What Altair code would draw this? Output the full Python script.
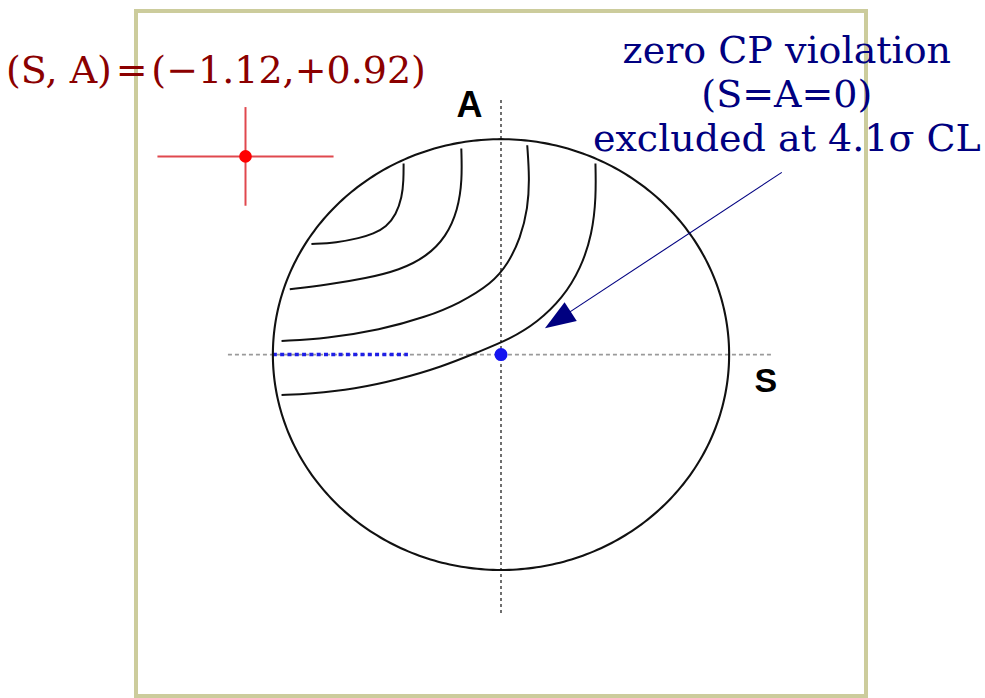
import altair as alt
import numpy as np
import pandas as pd

# ---- measured result and its errors -------------------------------------
S_FIT, A_FIT = -1.12, 0.92
S_ERR, A_ERR = 0.386, 0.229

# ---- confidence contours (S, A), traced from the upper end downwards ----
c1_s = [-0.427, -0.427, -0.434, -0.460, -0.502, -0.560, -0.619, -0.721, -0.831]
c1_a = [0.887, 0.810, 0.730, 0.650, 0.593, 0.560, 0.541, 0.519, 0.513]

c2_s = [-0.174, -0.170, -0.189, -0.240, -0.327, -0.444, -0.590, -0.765, -0.926]
c2_a = [0.957, 0.810, 0.671, 0.547, 0.454, 0.392, 0.354, 0.323, 0.303]

c3_s = [0.115, 0.125, 0.118, 0.085, 0.030, -0.040, -0.182, -0.327, -0.532, -0.765, -0.962]
c3_a = [0.972, 0.820, 0.680, 0.540, 0.420, 0.330, 0.238, 0.175, 0.114, 0.075, 0.063]

c4_s = [0.414, 0.417, 0.400, 0.350, 0.270, 0.160, 0.040, -0.100, -0.260, -0.450, -0.640, -0.838, -0.962]
c4_a = [0.887, 0.732, 0.560, 0.400, 0.262, 0.150, 0.072, 0.012, -0.057, -0.116, -0.160, -0.182, -0.188]

# ---- reference lines -----------------------------------------------------
s_axis = [-1.197, 1.192]      # dashed S axis extent (A = 0)
a_axis = [1.182, -1.200]      # dashed A axis extent (S = 0)
blue_seg = [-1.0, -0.408]     # dotted blue segment along A = 0

# ---- annotation anchors --------------------------------------------------
arrow_from = (1.231, 0.846)
arrow_head = (0.249, 0.161)
note_lines = ["zero CP violation", "(S=A=0)", "excluded at 4.1σ CL"]
note_s = 1.253
note_a = [1.352, 1.149, 0.947]

xs = alt.Scale(domain=[-1.6, 1.6], nice=False, zero=False)
ys = alt.Scale(domain=[-1.585, 1.595], nice=False, zero=False)


def X(f="s"):
    return alt.X(f, type="quantitative", scale=xs, axis=None)


def Y(f="a"):
    return alt.Y(f, type="quantitative", scale=ys, axis=None)


# physical boundary S^2 + A^2 = 1
t = np.linspace(0, 2 * np.pi, 361)
circle_df = pd.DataFrame({"s": np.cos(t), "a": np.sin(t), "i": np.arange(len(t))})

contour_rows = []
for k, (cs, ca) in enumerate([(c1_s, c1_a), (c2_s, c2_a), (c3_s, c3_a), (c4_s, c4_a)]):
    for i, (s, a) in enumerate(zip(cs, ca)):
        contour_rows.append({"curve": k, "i": i, "s": s, "a": a})
contour_df = pd.DataFrame(contour_rows)

h_axis = alt.Chart(pd.DataFrame({"s": [s_axis[0]], "s2": [s_axis[1]], "a": [0.0]})).mark_rule(
    color="#9a9a9a", strokeWidth=1.6, strokeDash=[4, 3]
).encode(x=X("s"), x2="s2", y=Y("a"))

v_axis = alt.Chart(pd.DataFrame({"s": [0.0], "a": [a_axis[0]], "a2": [a_axis[1]]})).mark_rule(
    color="#222222", strokeWidth=1.3, strokeDash=[3, 3]
).encode(x=X("s"), y=Y("a"), y2="a2")

circle = alt.Chart(circle_df).mark_line(color="#111111", strokeWidth=2.1).encode(
    x=X("s"), y=Y("a"), order="i:Q"
)

contours = alt.Chart(contour_df).mark_line(
    color="#111111", strokeWidth=2, interpolate="basis"
).encode(x=X("s"), y=Y("a"), detail="curve:N", order="i:Q")

blue_line = alt.Chart(pd.DataFrame({"s": [blue_seg[0]], "s2": [blue_seg[1]], "a": [0.0]})).mark_rule(
    color="#1f1fe6", strokeWidth=3.5, strokeDash=[4, 3.3]
).encode(x=X("s"), x2="s2", y=Y("a"))

origin = alt.Chart(pd.DataFrame({"s": [0.0], "a": [0.0]})).mark_point(
    shape="circle", filled=True, size=170, color="#1515f0", opacity=1
).encode(x=X("s"), y=Y("a"))

fit_df = pd.DataFrame({
    "s": [S_FIT], "a": [A_FIT],
    "s_lo": [S_FIT - S_ERR], "s_hi": [S_FIT + S_ERR],
    "a_lo": [A_FIT - A_ERR], "a_hi": [A_FIT + A_ERR],
})
err_s = alt.Chart(fit_df).mark_rule(color="#e0484e", strokeWidth=2).encode(
    x=X("s_lo"), x2="s_hi", y=Y("a")
)
err_a = alt.Chart(fit_df).mark_rule(color="#e0484e", strokeWidth=2).encode(
    x=X("s"), y=Y("a_lo"), y2="a_hi"
)
fit_pt = alt.Chart(fit_df).mark_point(
    shape="circle", filled=True, size=160, color="#ff0000", opacity=1
).encode(x=X("s"), y=Y("a"))

fit_label = alt.Chart(pd.DataFrame({
    "s": [-2.170], "a": [1.26],
    "t": [f"(S, A)\u200a=\u200a(−{abs(S_FIT):.2f},+{A_FIT:.2f})"],
})).mark_text(
    align="left", baseline="alphabetic", font="DejaVu Serif", fontSize=38, color="#8b0000"
).encode(x=X("s"), y=Y("a"), text="t:N")

arrow_line = alt.Chart(pd.DataFrame({
    "s": [arrow_from[0]], "a": [arrow_from[1]], "s2": [arrow_head[0]], "a2": [arrow_head[1]]
})).mark_rule(color="#000080", strokeWidth=1.1).encode(
    x=X("s"), y=Y("a"), x2="s2", y2="a2"
)
arrow_tip = alt.Chart(pd.DataFrame({"s": [arrow_head[0]], "a": [arrow_head[1]]})).mark_point(
    shape="M0,-1L0.73,1L-0.73,1Z", filled=True, size=940, angle=237,
    color="#000080", opacity=1
).encode(x=X("s"), y=Y("a"))

note = alt.Chart(pd.DataFrame({"s": [note_s] * 3, "a": note_a, "t": note_lines})).mark_text(
    align="center", baseline="alphabetic", font="DejaVu Serif", fontSize=38, color="#000080"
).encode(x=X("s"), y=Y("a"), text="t:N")

axis_names = alt.Chart(pd.DataFrame({
    "s": [-0.138, 1.161], "a": [1.104, -0.175], "t": ["A", "S"], "fs": [36, 34]
})).mark_text(
    align="center", baseline="alphabetic", font="Liberation Sans", fontWeight="bold", color="#000000"
).encode(x=X("s"), y=Y("a"), text="t:N", size=alt.Size("fs:Q", scale=None))

chart = alt.layer(
    h_axis, v_axis, blue_line, circle, contours, origin,
    err_s, err_a, fit_pt, fit_label, arrow_line, arrow_tip, note, axis_names
).properties(
    width=730, height=685,
    autosize=alt.AutoSizeParams(type="none"),
    padding={"left": 136, "top": 11, "right": 119, "bottom": 2},
    background="white",
).configure_view(
    stroke="#cccc9c", strokeWidth=4
)

chart.save("out.html", embed_options={"renderer": "svg", "actions": False})
